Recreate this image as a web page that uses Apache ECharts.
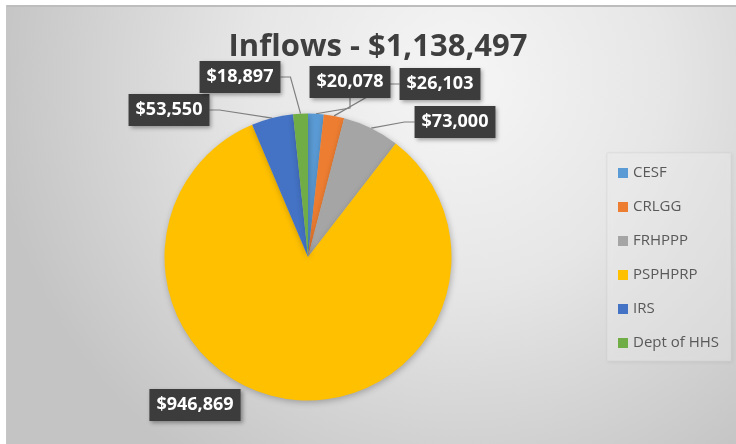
<!DOCTYPE html>
<html>
<head>
<meta charset="utf-8">
<title>Inflows</title>
<script src="https://cdn.jsdelivr.net/npm/echarts@6/dist/echarts.min.js"></script>
<style>
  html, body { margin: 0; padding: 0; background: #ffffff; }
  #chart { width: 736px; height: 444px; }
</style>
</head>
<body>
<div id="chart"></div>
<script>
// Inflow sources and amounts (USD)
const categories = ['CESF', 'CRLGG', 'FRHPPP', 'PSPHPRP', 'IRS', 'Dept of HHS'];
const amounts = [20078, 26103, 73000, 946869, 53550, 18897];
const sliceColors = ['#5B9BD5', '#ED7D31', '#A5A5A5', '#FFC000', '#4472C4', '#70AD47'];
const titleText = 'Inflows - $1,138,497';

// Where each callout box sits (centre point, in px), by slice index
const calloutCentres = [
  [350, 82],   // CESF
  [440, 84],   // CRLGG
  [455, 122],  // FRHPPP
  [195, 405],  // PSPHPRP
  [169, 110],  // IRS
  [240, 77]    // Dept of HHS
];
// The big slice's callout sits beside it without a leader line
const showLeader = [true, true, true, false, true, true];

const money = v => '$' + v.toLocaleString('en-US');

const chart = echarts.init(document.getElementById('chart'), null, { renderer: 'canvas' });

chart.setOption({
  animation: false,
  backgroundColor: {
    type: 'radial', x: 0.62, y: 0.18, r: 1.05,
    colorStops: [
      { offset: 0, color: '#f6f6f6' },
      { offset: 0.45, color: '#e6e6e6' },
      { offset: 1, color: '#c4c4c4' }
    ]
  },
  graphic: [
    // white margin and frame edge around the chart area
    { type: 'rect', left: 0, top: 0, shape: { width: 736, height: 5 }, style: { fill: '#ffffff' }, z: -1 },
    { type: 'rect', left: 0, top: 0, shape: { width: 6, height: 444 }, style: { fill: '#ffffff' }, z: -1 },
    { type: 'rect', left: 6, top: 5, shape: { width: 730, height: 2 }, style: { fill: '#bdbdbd' }, z: -1 },
    { type: 'rect', left: 6, top: 5, shape: { width: 1, height: 439 }, style: { fill: '#c6c6c6' }, z: -1 }
  ],
  title: {
    text: titleText,
    left: 373,
    textAlign: 'center',
    top: 27,
    textStyle: {
      fontFamily: 'Open Sans',
      fontWeight: 'bold',
      fontSize: 31,
      color: '#3f3f3f'
    }
  },
  legend: {
    orient: 'vertical',
    left: 607,
    top: 153,
    padding: [12, 12, 10, 11],
    backgroundColor: 'rgba(255,255,255,0.35)',
    borderColor: 'rgba(210,210,210,0.5)',
    borderWidth: 1,
    shadowColor: 'rgba(0,0,0,0.12)',
    shadowBlur: 4,
    shadowOffsetX: 1,
    shadowOffsetY: 1,
    itemWidth: 10,
    itemHeight: 10,
    itemGap: 18,
    icon: 'rect',
    textStyle: {
      fontFamily: 'Open Sans',
      fontSize: 15,
      lineHeight: 16,
      color: '#595959'
    },
    data: categories
  },
  series: [{
    type: 'pie',
    center: [308, 257],
    radius: 143.5,
    startAngle: 90,
    clockwise: true,
    color: sliceColors,
    itemStyle: {
      shadowColor: 'rgba(0,0,0,0.25)',
      shadowBlur: 6,
      shadowOffsetX: 1,
      shadowOffsetY: 2
    },
    label: {
      show: true,
      formatter: p => money(p.value),
      fontFamily: 'Open Sans',
      fontWeight: 'bold',
      fontSize: 18,
      color: '#ffffff',
      backgroundColor: '#3c3c3c',
      padding: [4, 7, 3, 7],
      lineHeight: 25,
      shadowColor: 'rgba(0,0,0,0.35)',
      shadowBlur: 4,
      shadowOffsetX: 2,
      shadowOffsetY: 2
    },
    labelLine: {
      show: true,
      length: 10,
      length2: 10,
      lineStyle: { color: '#7f7f7f', width: 1.2 }
    },
    labelLayout: p => ({
      x: calloutCentres[p.dataIndex][0],
      y: calloutCentres[p.dataIndex][1],
      align: 'center',
      verticalAlign: 'middle',
      moveOverlap: null
    }),
    emphasis: { disabled: true },
    data: categories.map((name, i) => ({
      name: name,
      value: amounts[i],
      labelLine: { show: showLeader[i] }
    }))
  }]
});
</script>
</body>
</html>
